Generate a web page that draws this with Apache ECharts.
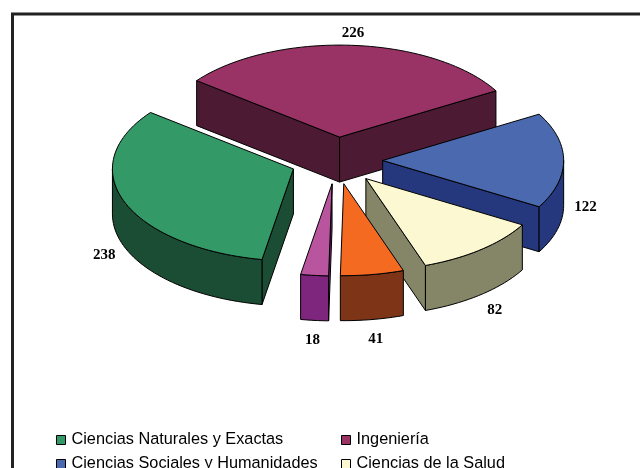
<!DOCTYPE html>
<html>
<head>
<meta charset="utf-8">
<style>
  html, body { margin: 0; padding: 0; background: #fff; overflow: hidden; }
  #chart { width: 640px; height: 468px; }
</style>
</head>
<body>
<div id="chart"></div>
<script src="https://cdn.jsdelivr.net/npm/echarts@6/dist/echarts.min.js"></script>
<script>
// only the first four names can be read, the other two legend rows are cut off
const categories = ["Ciencias Naturales y Exactas", "Ingeniería", "Ciencias Sociales y Humanidades", "Ciencias de la Salud", "Categoría 5", "Categoría 6"];
const values = [238, 226, 122, 82, 41, 18];
const topColors = ["#339966", "#993366", "#4a69ae", "#fcf8d2", "#f46a21", "#b9559f"];
const sideColors = ["#1b4d34", "#4c1b33", "#25377d", "#858567", "#7e3517", "#7e267d"];

// back to front
const drawOrder = [1, 0, 2, 3, 4, 5];

const CX = 336.5, CY = 160.5, RX = 181, RY = 92, DEPTH = 45;
const EXPLODE = 0.255;
const START_ANGLE = -170;

const total = values.reduce((a, b) => a + b, 0);
const rad = d => d * Math.PI / 180;

// angle is clockwise from north, on the flat circle before the tilt
const project = (angle, r, ox, oy) => [
  ox + r * RX * Math.sin(rad(angle)),
  oy - r * RY * Math.cos(rad(angle))
];

const arcPoints = (from, to, ox, oy, dy) => {
  const pts = [];
  const steps = Math.max(2, Math.ceil(Math.abs(to - from) / 2));
  for (let i = 0; i <= steps; i++) {
    const p = project(from + (to - from) * i / steps, 1, ox, oy);
    pts.push([p[0], p[1] + dy]);
  }
  return pts;
};

const renderSlice = (params, api) => {
  const start = api.value(0);
  const end = api.value(1);
  const mid = (start + end) / 2;
  const fill = topColors[drawOrder[params.seriesIndex]];
  const side = sideColors[drawOrder[params.seriesIndex]];
  const [ax, ay] = project(mid, EXPLODE, CX, CY);
  const line = { stroke: "#000", lineWidth: 1 };
  const children = [];
  const poly = (points, color) => children.push({
    type: "polygon",
    shape: { points },
    style: { fill: color, ...line }
  });

  // radial faces, only the ones turned to the viewer
  [[start, start - 90], [end, end + 90]].forEach(([a, normal]) => {
    if (Math.cos(rad(normal)) < 0) {
      const p = project(a, 1, ax, ay);
      poly([[ax, ay], p, [p[0], p[1] + DEPTH], [ax, ay + DEPTH]], side);
    }
  });

  // outer wall, front half of the ellipse
  const ranges = [[90, 270], [-270, -90]];
  ranges.forEach(([lo, hi]) => {
    const from = Math.max(start, lo);
    const to = Math.min(end, hi);
    if (to > from) {
      const upper = arcPoints(from, to, ax, ay, 0);
      const lower = arcPoints(from, to, ax, ay, DEPTH).reverse();
      poly(upper.concat(lower), side);
    }
  });

  // top face
  poly([[ax, ay]].concat(arcPoints(start, end, ax, ay, 0)), fill);

  // value label outside the slice
  const front = Math.cos(rad(mid)) < 0.5;
  const lx = ax + 1.12 * RX * Math.sin(rad(mid));
  const ly = ay - (front ? 1.19 : 1.13) * RY * Math.cos(rad(mid)) + (front ? 47 : 0);
  children.push({
    type: "text",
    x: lx,
    y: ly,
    style: {
      text: String(api.value(2)),
      font: 'bold 15px "Liberation Serif"',
      fill: "#000",
      align: "center",
      verticalAlign: "middle"
    }
  });

  return { type: "group", children };
};

// cumulative angles from the values
const startAngles = [];
let running = START_ANGLE;
values.forEach(v => {
  startAngles.push(running);
  running += v / total * 360;
});

const chart = echarts.init(document.getElementById("chart"), null, { renderer: "canvas" });

const legendBase = {
  orient: "vertical",
  top: 427,
  height: 80,
  itemWidth: 9,
  itemHeight: 9,
  itemGap: 8,
  icon: "rect",
  selectedMode: false,
  itemStyle: { borderColor: "#000", borderWidth: 1 },
  textStyle: { fontFamily: "Liberation Sans", fontSize: 16.3, color: "#000", padding: [0, 0, 0, 1] }
};

chart.setOption({
  animation: false,
  backgroundColor: "#fff",
  graphic: [{
    type: "rect",
    shape: { x: 12.5, y: 14, width: 800, height: 800 },
    style: { fill: "none", stroke: "#222", lineWidth: 3 },
    silent: true
  }],
  legend: [
    { ...legendBase, left: 51, data: [categories[0], categories[2]] },
    { ...legendBase, left: 336, data: [categories[1], categories[3]] }
  ],
  series: drawOrder.map(i => ({
    type: "custom",
    name: categories[i],
    coordinateSystem: "none",
    renderItem: renderSlice,
    itemStyle: { color: topColors[i] },
    data: [[startAngles[i], startAngles[i] + values[i] / total * 360, values[i]]]
  }))
});
</script>
</body>
</html>
